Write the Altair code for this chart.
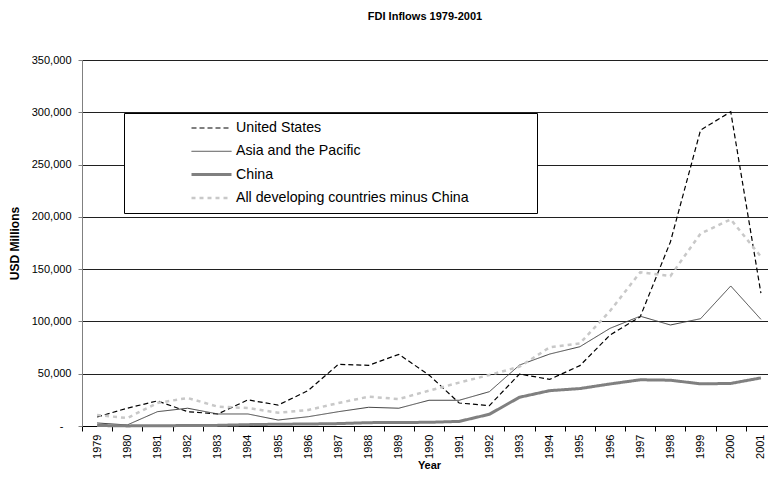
import altair as alt
import pandas as pd

years = [str(y) for y in range(1979, 2002)]
series_names = ["United States", "Asia and the Pacific", "China",
                "All developing countries minus China"]
us = [8600, 17000, 24000, 13700, 11500, 25000, 20000, 34000, 59000, 58000, 68500,
      48800, 22000, 19500, 49700, 44600, 57700, 87000, 104500, 176000, 283000,
      300500, 127000]
asia = [2900, 1000, 13700, 17000, 11500, 11500, 5700, 8900, 13700, 17900, 17000,
        24600, 24600, 32800, 58300, 68800, 75800, 93400, 105000, 96600, 102600,
        133900, 102000]
china = [500, 100, 300, 400, 600, 1300, 1700, 1900, 2300, 3200, 3400, 3500, 4400,
         11200, 27500, 33800, 35800, 40200, 44200, 43800, 40300, 40700, 46000]
dev = [10500, 7600, 22000, 26800, 18500, 17200, 12700, 15300, 22000, 28000, 25800,
       33800, 41500, 48800, 56700, 75200, 79000, 110000, 147000, 143400, 184000,
       197600, 162000]

rows = []
for name, vals in zip(series_names, [us, asia, china, dev]):
    for y, v in zip(years, vals):
        rows.append({"Year": y, "Series": name, "Value": v})
df = pd.DataFrame(rows)

legend = alt.Legend(
    title="\u00a0", titleOrient="left", titlePadding=62, titleFontSize=13,
    orient="none", legendX=42, legendY=53,
    fillColor="white", strokeColor="black", padding=4,
    symbolType="stroke", symbolSize=1600, labelOffset=3, labelLimit=800,
    labelFont="Liberation Sans", labelFontSize=14.2, labelColor="black",
    clipHeight=22, rowPadding=1.3,
    labelExpr="length(datum.label) > 30 ? datum.label + '\u00a0\u2800\u2800\u2800\u2800\u2800\u2800' : datum.label",
)

chart = alt.Chart(df).mark_line(clip=False).encode(
    x=alt.X("Year:O", scale=alt.Scale(type="band", paddingInner=0, paddingOuter=0,
                                       range=[0, 694]),
            axis=alt.Axis(title="Year", labelAngle=-90, tickBand="extent",
                          labelFontSize=11, titleFontSize=11, titleFontWeight="bold",
                          labelFont="Liberation Sans", titleFont="Liberation Sans",
                          labelColor="black", titleColor="black",
                          domainColor="black", tickColor="black", tickSize=5,
                          labelPadding=3, titlePadding=1, grid=False,
                          labelBaseline="middle", labelAlign="right")),
    y=alt.Y("Value:Q", scale=alt.Scale(domain=[0, 350000], nice=False),
            axis=alt.Axis(title="USD Millions", values=list(range(0, 350001, 50000)),
                          labelExpr="datum.value == 0 ? '-\u2800' : format(datum.value, ',')",
                          labelFontSize=11, titleFontSize=12, titleFontWeight="bold",
                          labelFont="Liberation Sans", titleFont="Liberation Sans",
                          labelColor="black", titleColor="black",
                          domainColor="#808080", tickColor="#808080", tickSize=4,
                          labelPadding=7, titlePadding=10,
                          grid=True, gridColor="#202020", gridWidth=1)),
    color=alt.Color("Series:N", legend=legend,
                    scale=alt.Scale(domain=series_names,
                                    range=["#000000", "#404040", "#808080", "#c8c8c8"])),
    strokeDash=alt.StrokeDash("Series:N", legend=legend,
                              scale=alt.Scale(domain=series_names,
                                              range=[[5, 3], [1, 0], [1, 0], [4, 4]])),
    strokeWidth=alt.StrokeWidth("Series:N", legend=legend,
                                scale=alt.Scale(type="ordinal", domain=series_names,
                                                range=[1.2, 1, 3, 2.5])),
    order=alt.Order("Series:N"),
).properties(
    width=686, height=366,
    title=alt.TitleParams("FDI Inflows 1979-2001", fontSize=11, fontWeight="bold",
                          font="Liberation Sans", color="black", anchor="middle",
                          offset=32),
    autosize=alt.AutoSizeParams(type="none"),
    padding={"left": 74, "top": 52, "right": 0, "bottom": 46},
).configure_view(stroke=None).configure(background="white")

chart.save("out.html", embed_options={"renderer": "svg", "actions": False})
